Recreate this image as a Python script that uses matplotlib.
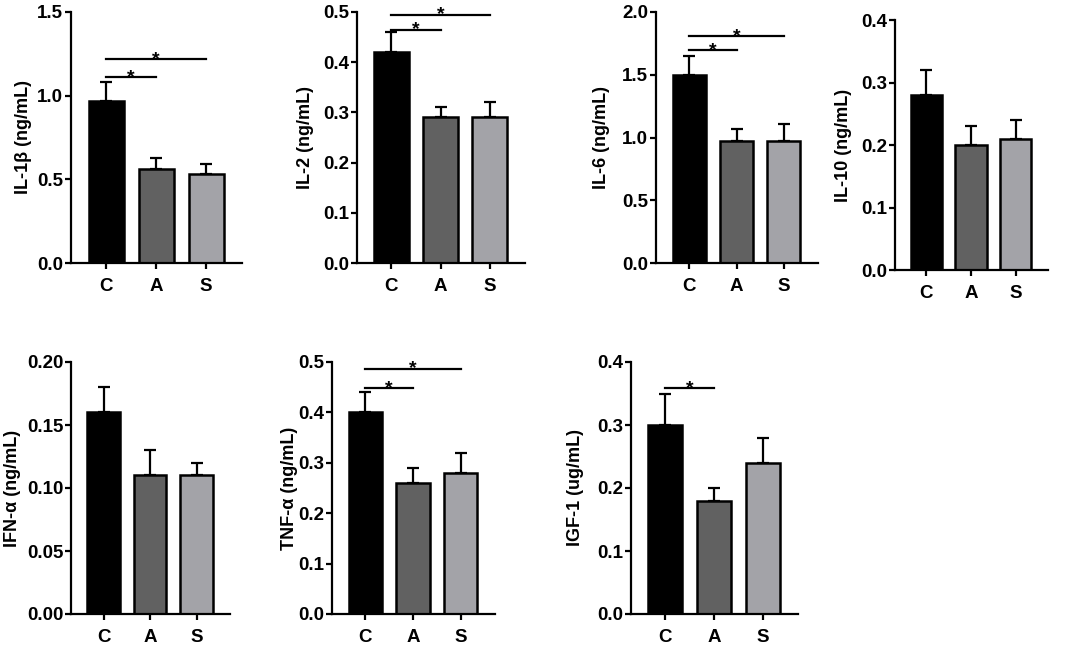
import numpy as np
import matplotlib.pyplot as plt
from matplotlib.ticker import FormatStrFormatter

plt.rcParams['font.family'] = ['Liberation Sans', 'DejaVu Sans']
plt.rcParams['font.weight'] = 'bold'

groups = ["C", "A", "S"]
colors = ["#000000", "#616161", "#a3a3a8"]

labels = ["IL-1β (ng/mL)", "IL-2 (ng/mL)", "IL-6 (ng/mL)", "IL-10 (ng/mL)",
          "IFN-α (ng/mL)", "TNF-α (ng/mL)", "IGF-1 (ug/mL)"]

il1b_mean = [0.97, 0.56, 0.53]
il1b_err = [0.11, 0.07, 0.06]
il2_mean = [0.42, 0.29, 0.29]
il2_err = [0.04, 0.02, 0.03]
il6_mean = [1.50, 0.97, 0.97]
il6_err = [0.15, 0.10, 0.14]
il10_mean = [0.28, 0.20, 0.21]
il10_err = [0.04, 0.03, 0.03]
ifn_mean = [0.16, 0.11, 0.11]
ifn_err = [0.02, 0.02, 0.01]
tnf_mean = [0.40, 0.26, 0.28]
tnf_err = [0.04, 0.03, 0.04]
igf_mean = [0.30, 0.18, 0.24]
igf_err = [0.05, 0.02, 0.04]

# significance brackets: (from group, to group, height)
il1b_sig = [(0, 1, 1.11), (0, 2, 1.22)]
il2_sig = [(0, 1, 0.465), (0, 2, 0.495)]
il6_sig = [(0, 1, 1.695), (0, 2, 1.807)]
tnf_sig = [(0, 1, 0.448), (0, 2, 0.487)]
igf_sig = [(0, 1, 0.359)]

yticks = [np.arange(0, 1.51, 0.5), np.arange(0, 0.51, 0.1), np.arange(0, 2.01, 0.5),
          np.arange(0, 0.41, 0.1), np.arange(0, 0.201, 0.05), np.arange(0, 0.51, 0.1),
          np.arange(0, 0.41, 0.1)]
fmts = ["%.1f", "%.1f", "%.1f", "%.1f", "%.2f", "%.1f", "%.1f"]

means = [il1b_mean, il2_mean, il6_mean, il10_mean, ifn_mean, tnf_mean, igf_mean]
errs = [il1b_err, il2_err, il6_err, il10_err, ifn_err, tnf_err, igf_err]
sigs = [il1b_sig, il2_sig, il6_sig, [], [], tnf_sig, igf_sig]

# axes boxes in pixels: left, right, top, bottom, y-label centre x
boxes = [(71, 242, 12, 263, 24), (357, 525, 12, 263, 305), (656, 818, 12, 263, 601),
         (895, 1048, 20, 270, 843), (71, 230, 362, 614, 13), (332, 495, 362, 614, 289),
         (631, 798, 362, 614, 576)]

W, H = 1084, 648
fig = plt.figure(figsize=(W / 100, H / 100), dpi=100)

for i in range(7):
    l, r, t, b, lx = boxes[i]
    ax = fig.add_axes([l / W, 1 - b / H, (r - l) / W, (b - t) / H])
    x = np.arange(3)
    m = means[i]
    e = errs[i]
    ax.bar(x, m, width=0.7, color=colors, edgecolor="black", linewidth=1.8, zorder=2)
    ax.errorbar(x, m, yerr=[np.zeros(3), e], fmt="none", ecolor="black",
                elinewidth=1.6, capsize=4.5, capthick=1.6, zorder=1)
    for g1, g2, h in sigs[i]:
        ax.plot([g1, g2], [h, h], color="black", lw=1.6, clip_on=False)
        ax.annotate("*", xy=((g1 + g2) / 2, h), xytext=(0, -3.5), textcoords="offset points",
                    ha="center", va="baseline", fontsize=14, fontweight="bold")
    ax.set_xlim(-0.7, 2.72)
    ax.set_ylim(0, yticks[i][-1])
    ax.set_yticks(yticks[i])
    ax.yaxis.set_major_formatter(FormatStrFormatter(fmts[i]))
    ax.set_xticks(x)
    ax.set_xticklabels(groups)
    ax.spines["top"].set_visible(False)
    ax.spines["right"].set_visible(False)
    ax.spines["left"].set_linewidth(1.6)
    ax.spines["bottom"].set_linewidth(1.6)
    ax.tick_params(width=1.6, length=4, labelsize=13.5)
    ax.tick_params(axis="y", pad=1.5)
    ax.tick_params(axis="x", pad=7)
    fig.text(lx / W, 1 - (t + b) / 2 / H, labels[i], rotation=90, ha="center", va="center",
             fontsize=13, fontweight="bold")

fig.savefig("out.png", dpi=100)
